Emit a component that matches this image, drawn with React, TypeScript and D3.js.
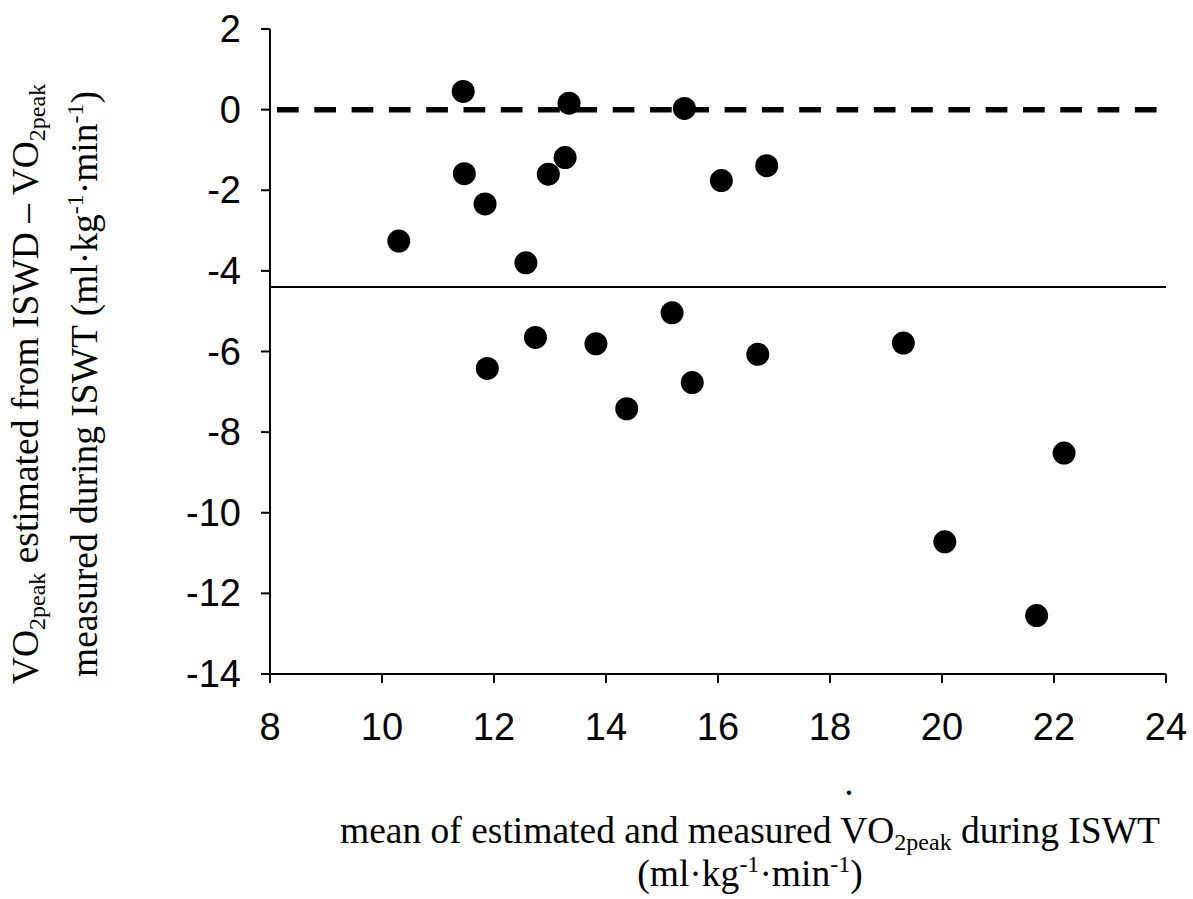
import * as d3 from "d3";

// Bland–Altman style: mean of estimated & measured VO2peak vs their difference
const meanVO2 = [
  11.45, 13.34, 15.4, 13.27, 11.47, 12.97, 11.84, 10.3, 12.57, 15.18, 12.74,
  13.82, 11.88, 15.54, 14.37, 16.06, 16.87, 16.71, 19.31, 22.18, 20.05, 21.69,
];
const diffVO2 = [
  0.45, 0.16, 0.03, -1.19, -1.59, -1.6, -2.34, -3.26, -3.8, -5.04, -5.65,
  -5.81, -6.42, -6.77, -7.42, -1.76, -1.39, -6.07, -5.79, -8.52, -10.72, -12.55,
];
const meanDifference = -4.4;
const zeroLine = 0;
const xTicks = [8, 10, 12, 14, 16, 18, 20, 22, 24];
const yTicks = [2, 0, -2, -4, -6, -8, -10, -12, -14];

const W = 1193;
const H = 899;
const left = 270;
const right = 1166;
const top = 29;
const bottom = 674;

const App = () => {
  const x = d3.scaleLinear().domain([8, 24]).range([left, right]);
  const y = d3.scaleLinear().domain([-14, 2]).range([bottom, top]);
  const points = meanVO2.map((m, i) => ({ m, d: diffVO2[i] }));
  const sans = "'Liberation Sans', Arial, sans-serif";
  const serif = "'Liberation Serif', 'Times New Roman', serif";
  const fs = 37.5;
  const sub = 24;

  return (
    <svg
      width={W}
      height={H}
      style={{ position: "absolute", left: 0, top: 0, background: "#fff" }}
    >
      {/* axes */}
      <line x1={left} x2={left} y1={y(2)} y2={y(-14)} stroke="#000" strokeWidth={2} />
      <line x1={left - 8} x2={right} y1={bottom} y2={bottom} stroke="#000" strokeWidth={2} />
      {yTicks.map((t) => (
        <g key={"y" + t}>
          <line x1={left - 9} x2={left} y1={y(t)} y2={y(t)} stroke="#000" strokeWidth={2} />
          <text
            x={241}
            y={y(t)}
            textAnchor="end"
            dominantBaseline="central"
            fontFamily={sans}
            fontSize={38}
          >
            {t}
          </text>
        </g>
      ))}
      {xTicks.map((t) => (
        <g key={"x" + t}>
          <line x1={x(t)} x2={x(t)} y1={bottom} y2={bottom + 9} stroke="#000" strokeWidth={2} />
          <text
            x={x(t)}
            y={740}
            textAnchor="middle"
            fontFamily={sans}
            fontSize={38}
          >
            {t}
          </text>
        </g>
      ))}

      {/* reference lines */}
      <line
        x1={277}
        x2={1158}
        y1={y(zeroLine)}
        y2={y(zeroLine)}
        stroke="#000"
        strokeWidth={5.5}
        strokeDasharray="21.7 15.6"
      />
      <line
        x1={left}
        x2={right}
        y1={y(meanDifference)}
        y2={y(meanDifference)}
        stroke="#000"
        strokeWidth={2}
      />

      {/* points */}
      {points.map((p, i) => (
        <circle key={i} cx={x(p.m)} cy={y(p.d)} r={11.5} fill="#000" />
      ))}

      {/* y-axis title */}
      <g transform="translate(0,384) rotate(-90)" fontFamily={serif} fontSize={fs}>
        <text x={0} y={38} textAnchor="middle">
          VO
          <tspan fontSize={sub} dy={7}>2peak</tspan>
          <tspan dy={-7}> estimated from ISWD – VO</tspan>
          <tspan fontSize={sub} dy={7}>2peak</tspan>
        </text>
        <text x={0} y={97} textAnchor="middle">
          measured during ISWT (ml·kg
          <tspan fontSize={sub} dy={-14}>-1</tspan>
          <tspan dy={14}>·min</tspan>
          <tspan fontSize={sub} dy={-14}>-1</tspan>
          <tspan dy={14}>)</tspan>
        </text>
      </g>

      {/* x-axis title */}
      <g fontFamily={serif} fontSize={fs}>
        <text x={849} y={795} textAnchor="middle">.</text>
        <text x={750} y={843} textAnchor="middle">
          mean of estimated and measured VO
          <tspan fontSize={sub} dy={7}>2peak</tspan>
          <tspan dy={-7}> during ISWT</tspan>
        </text>
        <text x={750} y={886} textAnchor="middle">
          (ml·kg
          <tspan fontSize={sub} dy={-14}>-1</tspan>
          <tspan dy={14}>·min</tspan>
          <tspan fontSize={sub} dy={-14}>-1</tspan>
          <tspan dy={14}>)</tspan>
        </text>
      </g>
    </svg>
  );
};

export default App;
